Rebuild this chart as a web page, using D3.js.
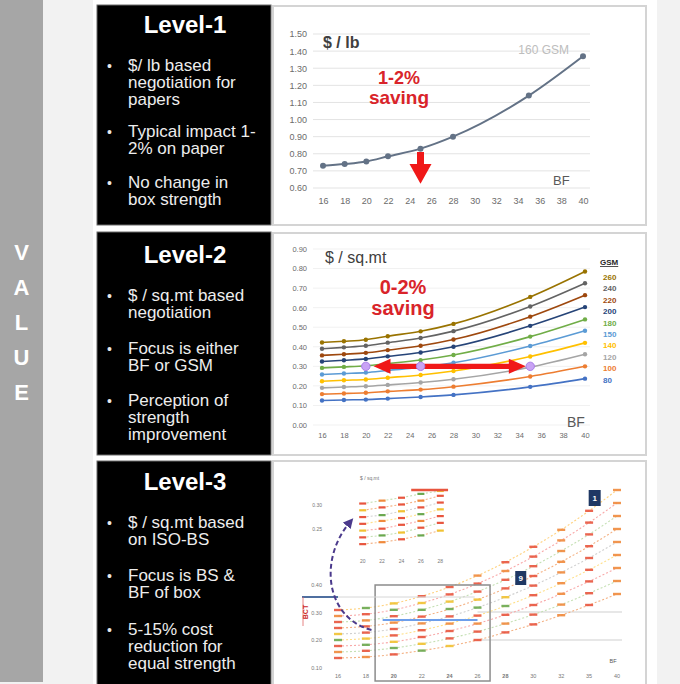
<!DOCTYPE html>
<html>
<head>
<meta charset="utf-8">
<script src="https://cdn.jsdelivr.net/npm/d3@7"></script>
<style>
  body { margin: 0; background: #fff; }
  svg { display: block; font-family: "Liberation Sans", Arial, sans-serif; }
</style>
</head>
<body>
<div id="chart"></div>
<script>
// ---------- data ----------
const sideLetters = ['V', 'A', 'L', 'U', 'E'];

const levelTitles = ['Level-1', 'Level-2', 'Level-3'];
const level1Bullets = [['$/ lb based', 'negotiation for', 'papers'], ['Typical impact 1-', '2% on paper'], ['No change in', 'box strength']];
const level2Bullets = [['$ / sq.mt based', 'negotiation'], ['Focus is either', 'BF or GSM'], ['Perception of', 'strength', 'improvement']];
const level3Bullets = [['$ / sq.mt based', 'on ISO-BS'], ['Focus is BS &', 'BF of box'], ['5-15% cost', 'reduction for', 'equal strength']];

// level-1 : $/lb of 160 GSM paper against BF
const bfPoints = [16, 18, 20, 22, 25, 28, 35, 40];
const bfTicks = [16, 18, 20, 22, 24, 26, 28, 30, 32, 34, 36, 38, 40];
const pricePerLb = [0.73, 0.74, 0.755, 0.785, 0.83, 0.90, 1.14, 1.37];
const lbTicks = [0.60, 0.70, 0.80, 0.90, 1.00, 1.10, 1.20, 1.30, 1.40, 1.50];

// level-2 : $/sq.mt per GSM grade against BF
const gsmGrades = [80, 100, 120, 140, 150, 180, 200, 220, 240, 260];
const gsmColors = ['#4472c4', '#ed7d31', '#a5a5a5', '#ffc000', '#5b9bd5', '#70ad47', '#264478', '#9e480e', '#636363', '#997300'];
const sqmt80  = [0.125, 0.128, 0.130, 0.135, 0.143, 0.154, 0.195, 0.237];
const sqmt100 = [0.158, 0.161, 0.165, 0.172, 0.181, 0.196, 0.248, 0.300];
const sqmt120 = [0.190, 0.194, 0.198, 0.205, 0.217, 0.234, 0.296, 0.362];
const sqmt140 = [0.224, 0.229, 0.233, 0.242, 0.256, 0.276, 0.350, 0.420];
const sqmt150 = [0.258, 0.263, 0.268, 0.279, 0.295, 0.318, 0.404, 0.482];
const sqmt180 = [0.292, 0.297, 0.303, 0.314, 0.332, 0.358, 0.452, 0.540];
const sqmt200 = [0.325, 0.331, 0.338, 0.351, 0.371, 0.400, 0.507, 0.603];
const sqmt220 = [0.356, 0.362, 0.369, 0.383, 0.405, 0.437, 0.554, 0.664];
const sqmt240 = [0.390, 0.397, 0.405, 0.421, 0.445, 0.480, 0.606, 0.725];
const sqmt260 = [0.422, 0.428, 0.436, 0.454, 0.479, 0.517, 0.655, 0.785];
const sqmtTicks = [0, 0.1, 0.2, 0.3, 0.4, 0.5, 0.6, 0.7, 0.8, 0.9];
const equalCostBF = [20, 25, 35];
const equalCostValue = 0.30;

// level-3 : iso box-strength lines (relative cost index against BF step)
const isoSteps = [0, 1, 2, 3, 4, 5, 6, 7, 8, 9, 10];
const isoStepLabels = ['16', '18', '20', '22', '24', '26', '28', '30', '32', '35', '40'];
const iso1 = [6, 6.5, 7.8, 9.7, 12, 15, 18.8, 22.8, 27.4, 32.5, 38];
const iso2 = [9, 9.6, 11, 13.1, 15.8, 19.2, 23.2, 27.7, 32.7, 38.4, 44.5];
const iso3 = [12, 12.6, 14.1, 16.5, 19.5, 23.2, 27.6, 32.5, 38.1, 44.3, 51];
const iso4 = [15, 15.7, 17.3, 19.9, 23.2, 27.2, 32, 37.4, 43.4, 50.1, 57.5];
const iso5 = [18, 18.7, 20.5, 23.3, 26.8, 31.2, 36.4, 42.2, 48.8, 56, 64];
const iso6 = [21, 21.8, 23.7, 26.7, 30.5, 35.2, 40.8, 47, 54.1, 61.9, 70.5];
const iso7 = [24, 24.8, 26.9, 30.1, 34.2, 39.2, 45.1, 51.9, 59.5, 67.8, 77];
const iso8 = [27, 27.9, 30.1, 33.5, 37.8, 43.2, 49.5, 56.7, 64.8, 73.7, 83.5];
const iso9 = [30, 31, 33.3, 36.9, 41.5, 47.2, 53.9, 61.6, 70.1, 79.6, 90];
const isoYTicks = [1, 15, 28.5, 42.5];
const isoYLabels = ['0.10', '0.20', '0.30', '0.40'];
const refLevels = [15, 29];
const insetSteps = [0, 1, 2, 3, 4];
const insetLabels = ['20', '22', '24', '26', '28'];
const inset1 = [4, 6, 9, 13, 18];
const inset2 = [11, 13, 16, 21, 26];
const inset3 = [18, 20, 24, 28, 33];
const inset4 = [25, 28, 31, 35, 40];
const inset5 = [32, 34, 38, 42, 47];
const inset6 = [39, 42, 45, 49, 54];
const inset7 = [46, 49, 52, 56, 59];
const insetYTicks = [20, 45];
const insetYLabels = ['0.25', '0.30'];

// ---------- page ----------
const W = 680, H = 684;
const svg = d3.select('#chart').append('svg').attr('width', W).attr('height', H);

svg.append('rect').attr('width', W).attr('height', H).attr('fill', '#f2f2f2');
svg.append('rect').attr('x', 93).attr('width', 564).attr('height', H).attr('fill', '#fff');
svg.append('rect').attr('width', 43).attr('height', 682).attr('fill', '#a6a6a6');

sideLetters.forEach((c, i) => {
  svg.append('text')
    .attr('x', 21.5).attr('y', 260 + i * 35)
    .attr('text-anchor', 'middle')
    .style('font-size', '22px').style('font-weight', 'bold')
    .attr('fill', '#fff')
    .text(c);
});

// black text panels + white chart panels
const rows = [
  { y: 5, h: 220, bullets: level1Bullets, titleY: 33, starts: [71, 137, 188], cy: 6, ch: 219 },
  { y: 232, h: 223, bullets: level2Bullets, titleY: 263, starts: [301, 354, 406], cy: 233, ch: 222 },
  { y: 461, h: 226, bullets: level3Bullets, titleY: 490, starts: [528, 581, 635], cy: 461, ch: 226 }
];

rows.forEach((r, i) => {
  svg.append('rect')
    .attr('x', 97).attr('y', r.y).attr('width', 174).attr('height', r.h)
    .attr('fill', '#000').attr('stroke', '#6b6b6b').attr('stroke-width', 1);

  svg.append('rect')
    .attr('x', 273).attr('y', r.cy).attr('width', 373).attr('height', r.ch)
    .attr('fill', '#fff').attr('stroke', '#d4d4d4').attr('stroke-width', 2);

  svg.append('text')
    .attr('x', 185).attr('y', r.titleY)
    .attr('text-anchor', 'middle')
    .style('font-size', '24px').style('font-weight', 'bold')
    .attr('fill', '#fff')
    .text(levelTitles[i]);

  r.bullets.forEach((para, j) => {
    svg.append('text')
      .attr('x', 107).attr('y', r.starts[j])
      .style('font-size', '14px')
      .attr('fill', '#e8e8e8')
      .text('•');
    para.forEach((line, k) => {
      svg.append('text')
        .attr('x', 128).attr('y', r.starts[j] + k * 17)
        .style('font-size', '17px')
        .attr('fill', '#ededed')
        .text(line);
    });
  });
});

// ---------- level-1 chart ----------
(function () {
  const x = d3.scaleLinear().domain([16, 40]).range([323, 583]);
  const y = d3.scaleLinear().domain([0.6, 1.5]).range([188, 34]);
  const g = svg.append('g');

  g.selectAll('.grid').data(lbTicks).enter().append('line')
    .attr('x1', 313).attr('x2', 590)
    .attr('y1', d => y(d)).attr('y2', d => y(d))
    .attr('stroke', '#e3e3e3').attr('stroke-width', 1);

  const yAxis = g.append('g').attr('transform', 'translate(310,0)')
    .call(d3.axisLeft(y).tickValues(lbTicks).tickFormat(d3.format('.2f')).tickSize(0));
  const xAxis = g.append('g').attr('transform', 'translate(0,195)')
    .call(d3.axisBottom(x).tickValues(bfTicks).tickSize(0));
  [yAxis, xAxis].forEach(a => {
    a.select('.domain').remove();
    a.selectAll('text').style('font-size', '9px').attr('fill', '#6b6b6b')
      .style('font-family', '"Liberation Sans", Arial, sans-serif');
  });

  const pts = bfPoints.map((b, i) => ({ b, v: pricePerLb[i] }));
  g.append('path').datum(pts)
    .attr('fill', 'none').attr('stroke', '#637286').attr('stroke-width', 2)
    .attr('d', d3.line().x(d => x(d.b)).y(d => y(d.v)).curve(d3.curveMonotoneX));
  g.selectAll('.pt').data(pts).enter().append('circle')
    .attr('cx', d => x(d.b)).attr('cy', d => y(d.v)).attr('r', 3)
    .attr('fill', '#637286');

  g.append('text').attr('x', 323).attr('y', 48)
    .style('font-size', '16px').style('font-weight', 'bold').attr('fill', '#404040')
    .text('$ / lb');
  g.append('text').attr('x', 569).attr('y', 54).attr('text-anchor', 'end')
    .style('font-size', '12px').attr('fill', '#bdbdbd')
    .text('160 GSM');
  g.append('text').attr('x', 399).attr('y', 84).attr('text-anchor', 'middle')
    .style('font-size', '18px').style('font-weight', 'bold').attr('fill', '#d9242a')
    .text('1-2%');
  g.append('text').attr('x', 399).attr('y', 104).attr('text-anchor', 'middle')
    .style('font-size', '19px').style('font-weight', 'bold').attr('fill', '#d9242a')
    .text('saving');
  g.append('text').attr('x', 553).attr('y', 185)
    .style('font-size', '13px').attr('fill', '#595959')
    .text('BF');

  // red down arrow at BF 25
  const ax = x(25), at = y(0.81), ah = y(0.74), ab = y(0.625);
  g.append('path')
    .attr('d', `M${ax - 3.5},${at} L${ax + 3.5},${at} L${ax + 3.5},${ah} L${ax + 11},${ah} L${ax},${ab} L${ax - 11},${ah} L${ax - 3.5},${ah} Z`)
    .attr('fill', '#f01818');
})();

// ---------- level-2 chart ----------
(function () {
  const x = d3.scaleLinear().domain([16, 40]).range([322, 585]);
  const y = d3.scaleLinear().domain([0, 0.9]).range([425, 249]);
  const g = svg.append('g');
  const series = [sqmt80, sqmt100, sqmt120, sqmt140, sqmt150, sqmt180, sqmt200, sqmt220, sqmt240, sqmt260];

  g.selectAll('.grid').data(sqmtTicks).enter().append('line')
    .attr('x1', 313).attr('x2', 590)
    .attr('y1', d => y(d)).attr('y2', d => y(d))
    .attr('stroke', '#f1f1f1');

  const yAxis = g.append('g').attr('transform', 'translate(310,0)')
    .call(d3.axisLeft(y).tickValues(sqmtTicks).tickFormat(d3.format('.2f')).tickSize(0));
  const xAxis = g.append('g').attr('transform', 'translate(0,430)')
    .call(d3.axisBottom(x).tickValues(bfTicks).tickSize(0));
  [yAxis, xAxis].forEach(a => {
    a.select('.domain').remove();
    a.selectAll('text').style('font-size', '7.5px').attr('fill', '#6b6b6b')
      .style('font-family', '"Liberation Sans", Arial, sans-serif');
  });

  const line = d3.line().x(d => x(d.b)).y(d => y(d.v)).curve(d3.curveMonotoneX);
  series.forEach((s, i) => {
    const pts = bfPoints.map((b, j) => ({ b, v: s[j] }));
    g.append('path').datum(pts)
      .attr('fill', 'none').attr('stroke', gsmColors[i]).attr('stroke-width', 1.6)
      .attr('d', line);
    g.selectAll(null).data(pts).enter().append('circle')
      .attr('cx', d => x(d.b)).attr('cy', d => y(d.v)).attr('r', 2.2)
      .attr('fill', gsmColors[i]);
  });

  // legend
  g.append('text').attr('x', 600).attr('y', 265)
    .style('font-size', '8px').style('font-weight', 'bold').attr('fill', '#262626')
    .attr('text-decoration', 'underline')
    .text('GSM');
  gsmGrades.slice().reverse().forEach((gsm, i) => {
    g.append('text').attr('x', 603).attr('y', 280 + i * 11.4)
      .style('font-size', '8px').style('font-weight', 'bold')
      .attr('fill', gsmColors[gsmGrades.length - 1 - i])
      .text(gsm);
  });

  g.append('text').attr('x', 325).attr('y', 263)
    .style('font-size', '16px').attr('fill', '#404040')
    .text('$ / sq.mt');
  g.append('text').attr('x', 403).attr('y', 294).attr('text-anchor', 'middle')
    .style('font-size', '20px').style('font-weight', 'bold').attr('fill', '#d9242a')
    .text('0-2%');
  g.append('text').attr('x', 403).attr('y', 315).attr('text-anchor', 'middle')
    .style('font-size', '20px').style('font-weight', 'bold').attr('fill', '#d9242a')
    .text('saving');
  g.append('text').attr('x', 567).attr('y', 427)
    .style('font-size', '14px').attr('fill', '#595959')
    .text('BF');

  // double arrow across equal cost points
  const x1 = x(20.7), x2 = x(34.6), yc = y(equalCostValue);
  g.append('path')
    .attr('d', `M${x1},${yc} L${x1 + 17},${yc - 7.5} L${x1 + 17},${yc - 2.6} L${x2 - 17},${yc - 2.6} L${x2 - 17},${yc - 7.5} L${x2},${yc} L${x2 - 17},${yc + 7.5} L${x2 - 17},${yc + 2.6} L${x1 + 17},${yc + 2.6} L${x1 + 17},${yc + 7.5} Z`)
    .attr('fill', '#f01818');
  g.selectAll('.eq').data(equalCostBF).enter().append('circle')
    .attr('cx', d => x(d)).attr('cy', yc).attr('r', 4.2)
    .attr('fill', '#c9a3f5').attr('stroke', '#a97ee8').attr('stroke-width', 1);
})();

// ---------- level-3 chart ----------
(function () {
  const x = d3.scaleLinear().domain([0, 10]).range([338, 617]);
  const y = d3.scaleLinear().domain([0, 100]).range([670, 470]);
  const xi = d3.scaleLinear().domain([-0.5, 4.5]).range([353, 450]);
  const yi = d3.scaleLinear().domain([0, 60]).range([548, 490]);
  const g = svg.append('g');

  const lineColors = ['#f4b183', '#c5e0b4', '#f8a9a9', '#ffe08a', '#d0d0d0', '#f4b183', '#c5e0b4', '#f8a9a9', '#ffd27f'];
  const markColors = ['#e8553e', '#f08a3c', '#e8553e', '#6aa84f', '#f1c232', '#e8553e'];

  // reference lines
  g.selectAll('.ref').data(refLevels).enter().append('line')
    .attr('x1', x(5)).attr('x2', 622)
    .attr('y1', d => y(d)).attr('y2', d => y(d))
    .attr('stroke', '#cfcfcf').attr('stroke-width', 1);

  const isoSeries = [iso1, iso2, iso3, iso4, iso5, iso6, iso7, iso8, iso9];
  const line = d3.line().x(d => x(d.s)).y(d => y(d.v)).curve(d3.curveMonotoneX);
  isoSeries.forEach((s, i) => {
    const pts = isoSteps.map((st, j) => ({ s: st, v: s[j] }));
    g.append('path').datum(pts)
      .attr('fill', 'none').attr('stroke', lineColors[i]).attr('stroke-width', 1.1)
      .attr('stroke-dasharray', '2,2')
      .attr('d', line);
    g.selectAll(null).data(pts).enter().append('rect')
      .attr('x', d => x(d.s) - 4).attr('y', d => y(d.v) - 1.2)
      .attr('width', 8).attr('height', 2.4)
      .attr('fill', (d, j) => j > 6 ? (j % 2 ? '#e8553e' : '#f08a3c') : markColors[(i + j) % markColors.length])
      .attr('opacity', 0.9);
  });

  // inset cluster
  const insetSeries = [inset1, inset2, inset3, inset4, inset5, inset6, inset7];
  const iline = d3.line().x(d => xi(d.s)).y(d => yi(d.v));
  insetSeries.forEach((s, i) => {
    const pts = insetSteps.map((st, j) => ({ s: st, v: s[j] }));
    g.append('path').datum(pts)
      .attr('fill', 'none').attr('stroke', lineColors[i]).attr('stroke-width', 1.1)
      .attr('stroke-dasharray', '2,2')
      .attr('d', iline);
    g.selectAll(null).data(pts).enter().append('rect')
      .attr('x', d => xi(d.s) - 3.5).attr('y', d => yi(d.v) - 1.1)
      .attr('width', 7).attr('height', 2.2)
      .attr('fill', (d, j) => markColors[(i * 2 + j) % markColors.length]);
  });
  g.append('line').attr('x1', xi(2.5)).attr('x2', xi(4.4))
    .attr('y1', yi(60)).attr('y2', yi(60))
    .attr('stroke', '#e8553e').attr('stroke-width', 2.5);

  // inset labels
  g.selectAll('.ixl').data(insetSteps).enter().append('text')
    .attr('x', d => xi(d)).attr('y', 563).attr('text-anchor', 'middle')
    .style('font-size', '5px').attr('fill', '#777')
    .text((d, i) => insetLabels[i]);
  g.selectAll('.iyl').data(insetYTicks).enter().append('text')
    .attr('x', 322).attr('y', d => yi(d) + 2).attr('text-anchor', 'end')
    .style('font-size', '5px').attr('fill', '#777')
    .text((d, i) => insetYLabels[i]);
  g.append('text').attr('x', 360).attr('y', 480)
    .style('font-size', '5px').attr('fill', '#777')
    .text('$ / sq.mt');

  // main axis labels
  g.selectAll('.xl').data(isoSteps).enter().append('text')
    .attr('x', d => x(d)).attr('y', 678).attr('text-anchor', 'middle')
    .style('font-size', '5.5px').attr('fill', '#777')
    .style('font-weight', d => (d === 2 || d === 4 || d === 6) ? 'bold' : 'normal')
    .text((d, i) => isoStepLabels[i]);
  g.selectAll('.yl').data(isoYTicks).enter().append('text')
    .attr('x', 322).attr('y', d => y(d) + 2).attr('text-anchor', 'end')
    .style('font-size', '5.5px').attr('fill', '#777')
    .text((d, i) => isoYLabels[i]);
  g.append('text').attr('x', 613).attr('y', 663).attr('text-anchor', 'middle')
    .style('font-size', '5.5px').attr('fill', '#555')
    .text('BF');

  // focus box
  g.append('rect')
    .attr('x', x(1.33)).attr('y', y(42.5))
    .attr('width', x(5.45) - x(1.33)).attr('height', 96)
    .attr('fill', 'none').attr('stroke', '#8c8c8c').attr('stroke-width', 1.5);

  // blue target lines
  g.append('line').attr('x1', 302).attr('x2', 338)
    .attr('y1', y(36.5)).attr('y2', y(36.5))
    .attr('stroke', '#4f6fa0').attr('stroke-width', 2);
  g.append('line').attr('x1', 338).attr('x2', x(4.9))
    .attr('y1', y(36.5)).attr('y2', y(36.5))
    .attr('stroke', '#d6d6d6').attr('stroke-width', 1);
  g.append('line').attr('x1', x(1.6)).attr('x2', x(5))
    .attr('y1', y(25)).attr('y2', y(25))
    .attr('stroke', '#6d9eeb').attr('stroke-width', 2);
  g.append('line').attr('x1', 303).attr('x2', 303)
    .attr('y1', y(36.5)).attr('y2', y(22))
    .attr('stroke', '#e06666').attr('stroke-width', 0.8);
  g.append('text')
    .attr('transform', `translate(308,${y(29)}) rotate(-90)`)
    .attr('text-anchor', 'middle')
    .style('font-size', '7px').style('font-weight', 'bold').attr('fill', '#cc2a2a')
    .text('BCT');

  // purple dashed arc to the inset
  const defs = svg.append('defs');
  defs.append('marker').attr('id', 'ph').attr('viewBox', '0 0 10 10')
    .attr('refX', 5).attr('refY', 5).attr('markerWidth', 5).attr('markerHeight', 5)
    .attr('orient', 'auto')
    .append('path').attr('d', 'M0,0 L10,5 L0,10 Z').attr('fill', '#4b3a8c');
  g.append('path')
    .attr('d', `M${x(1.2)},${y(20)} C 326,${y(26)} 318,560 350,522`)
    .attr('fill', 'none').attr('stroke', '#4b3a8c').attr('stroke-width', 2)
    .attr('stroke-dasharray', '5,3')
    .attr('marker-end', 'url(#ph)');

  // navy tags
  const tags = [{ s: 9.2, v: 86, t: '1', w: 12, h: 16 }, { s: 6.55, v: 46, t: '9', w: 11, h: 14 }];
  tags.forEach(d => {
    g.append('rect').attr('x', x(d.s) - d.w / 2).attr('y', y(d.v) - d.h / 2)
      .attr('width', d.w).attr('height', d.h).attr('fill', '#1f3864');
    g.append('text').attr('x', x(d.s)).attr('y', y(d.v) + 3).attr('text-anchor', 'middle')
      .style('font-size', '8px').style('font-weight', 'bold').attr('fill', '#fff')
      .text(d.t);
  });
})();
</script>
</body>
</html>
